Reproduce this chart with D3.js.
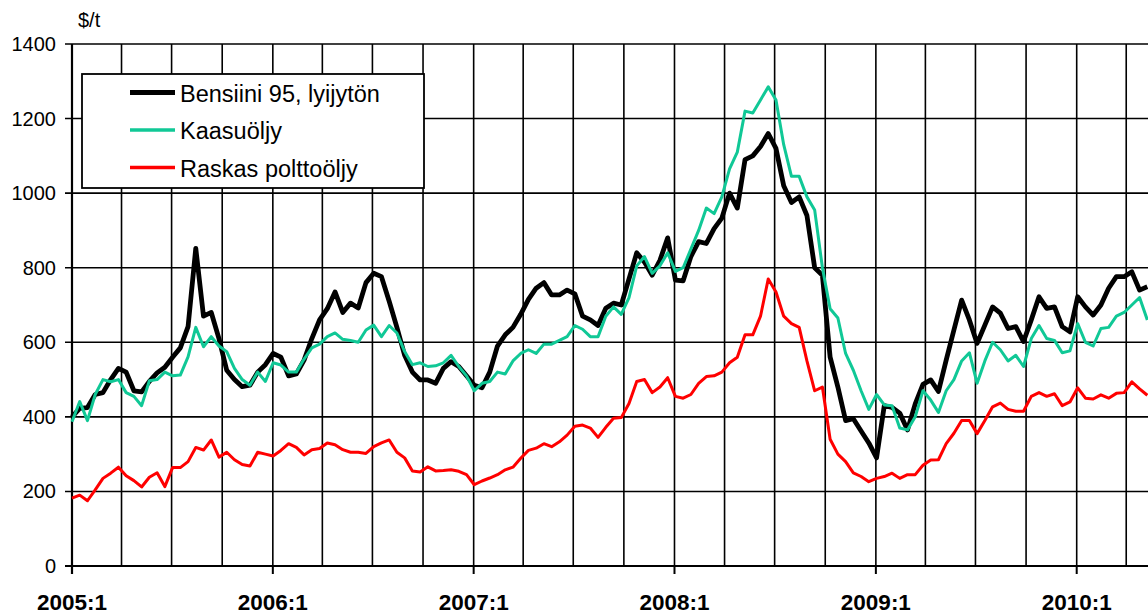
<!DOCTYPE html>
<html>
<head>
<meta charset="utf-8">
<script src="https://cdn.jsdelivr.net/npm/d3@7"></script>
<style>
  body { margin: 0; background: #fff; }
  svg { display: block; font-family: "Liberation Sans", Arial, sans-serif; }
</style>
</head>
<body>
<div id="chart"></div>
<script>
// biweekly prices, $/t, from first week of 2005
const startDate = new Date(2005, 0, 1);
const stepDays = 14.06;

const bensiini = [
  400,423,425,460,465,500,530,520,470,467,
  495,518,533,560,585,642,852,670,680,610,
  525,500,481,485,520,540,570,560,510,515,
  552,610,660,690,735,680,705,692,760,785,
  776,710,640,565,520,499,499,490,530,548,
  535,510,485,478,520,590,620,640,675,715,
  745,760,727,727,740,730,670,660,645,691,
  705,700,770,840,815,780,820,880,767,765,
  830,870,865,905,933,1000,960,1090,1100,1125,
  1160,1120,1020,975,990,940,800,780,560,480,
  390,395,362,330,290,430,425,410,365,435,
  487,499,468,552,633,713,660,597,646,695,
  678,637,642,602,660,722,691,695,642,628,
  722,695,673,700,745,776,776,789,740,749
];
const kaasuoljy = [
  387,441,390,460,500,494,500,465,455,430,
  497,500,520,510,512,561,640,588,615,590,
  575,530,500,485,520,495,545,539,520,520,
  555,585,595,615,625,608,605,600,633,646,
  615,645,625,575,540,545,535,537,545,565,
  535,510,470,490,495,520,515,550,570,580,
  570,595,595,605,615,645,635,615,615,670,
  695,675,720,805,830,785,805,840,790,800,
  850,900,960,945,990,1065,1110,1220,1215,1250,
  1285,1250,1130,1045,1045,990,955,800,690,665,
  570,525,470,420,460,432,430,370,365,400,
  470,445,412,470,500,550,572,490,550,600,
  580,550,565,535,610,645,610,605,572,577,
  650,600,590,637,640,670,680,700,720,660
];
const raskas = [
  182,190,175,204,235,249,265,242,229,212,
  238,250,213,264,264,280,318,311,338,292,
  305,285,272,268,305,300,295,310,328,318,
  298,312,315,330,325,312,305,305,302,320,
  330,338,305,290,255,252,266,255,256,258,
  254,245,218,228,236,245,258,265,289,310,
  316,328,320,333,351,375,378,370,345,372,
  396,398,436,495,500,465,480,505,455,450,
  460,490,508,510,520,545,560,620,620,670,
  770,735,670,650,640,550,470,480,340,300,
  280,250,240,226,235,240,249,235,245,245,
  270,284,285,328,356,390,390,355,390,427,
  437,420,415,415,455,465,455,462,430,440,
  478,450,448,459,450,463,465,494,475,458
];

const seriesNames = ["Bensiini 95, lyijytön", "Kaasuöljy", "Raskas polttoöljy"];
const seriesColors = ["#000000", "#10c896", "#ff0000"];
const seriesWidths = [4.8, 3, 3];
const yTicks = [0, 200, 400, 600, 800, 1000, 1200, 1400];
const xLabels = ["2005:1", "2006:1", "2007:1", "2008:1", "2009:1", "2010:1"];
const unitLabel = "$/t";

const width = 1148, height = 616;

const svg = d3.select("#chart").append("svg")
  .attr("width", width).attr("height", height);

const x = d3.scaleTime()
  .domain([new Date(2005, 0, 1), new Date(2010, 0, 1)])
  .range([72, 1076.7]);
const y = d3.scaleLinear().domain([0, 1400]).range([566, 44]);

const dates = bensiini.map((d, i) => d3.timeHour.offset(startDate, Math.round(i * stepDays * 24)));

// grid
const quarters = d3.timeMonth.every(3).range(new Date(2005, 3, 1), x.invert(width));
svg.append("g").selectAll("line").data(quarters).join("line")
  .attr("x1", d => x(d)).attr("x2", d => x(d))
  .attr("y1", y(1400)).attr("y2", y(0))
  .attr("stroke", "#000").attr("stroke-width", 1.6);

svg.append("g").selectAll("line").data(yTicks).join("line")
  .attr("x1", 65).attr("x2", width)
  .attr("y1", d => y(d)).attr("y2", d => y(d))
  .attr("stroke", "#000").attr("stroke-width", d => d === 0 ? 2.2 : 1.6);

// axes
svg.append("line").attr("x1", 72).attr("x2", 72).attr("y1", y(1400)).attr("y2", 574)
  .attr("stroke", "#000").attr("stroke-width", 2.2);

const years = xLabels.map((d, i) => new Date(2005 + i, 0, 1));
svg.append("g").selectAll("line").data(years).join("line")
  .attr("x1", d => x(d)).attr("x2", d => x(d))
  .attr("y1", 566).attr("y2", 574)
  .attr("stroke", "#000").attr("stroke-width", 2);

svg.append("g").selectAll("text").data(yTicks).join("text")
  .attr("x", 56).attr("y", d => y(d) + 7)
  .attr("text-anchor", "end").attr("font-size", 20).text(d => d);

svg.append("g").selectAll("text").data(years).join("text")
  .attr("x", d => x(d)).attr("y", 610)
  .attr("text-anchor", "middle").attr("font-size", 22.5).attr("font-weight", "bold")
  .text((d, i) => xLabels[i]);

svg.append("text").attr("x", 78).attr("y", 27).attr("font-size", 20).text(unitLabel);

// lines
const line = d3.line().x((d, i) => x(dates[i])).y(d => y(d));
[bensiini, kaasuoljy, raskas].forEach((s, k) => {
  svg.append("path").datum(s)
    .attr("fill", "none")
    .attr("stroke", seriesColors[k])
    .attr("stroke-width", seriesWidths[k])
    .attr("stroke-linejoin", "round")
    .attr("d", line);
});

// legend
const lg = svg.append("g");
lg.append("rect").attr("x", 82).attr("y", 74).attr("width", 342).attr("height", 114)
  .attr("fill", "#fff").attr("stroke", "#000").attr("stroke-width", 1.8);
seriesNames.forEach((name, k) => {
  const ry = 92.5 + k * 37.5;
  lg.append("line").attr("x1", 130).attr("x2", 175).attr("y1", ry).attr("y2", ry)
    .attr("stroke", seriesColors[k]).attr("stroke-width", seriesWidths[k] + 0.3);
  lg.append("text").attr("x", 180).attr("y", ry + 9).attr("font-size", 23.5).text(name);
});
</script>
</body>
</html>
